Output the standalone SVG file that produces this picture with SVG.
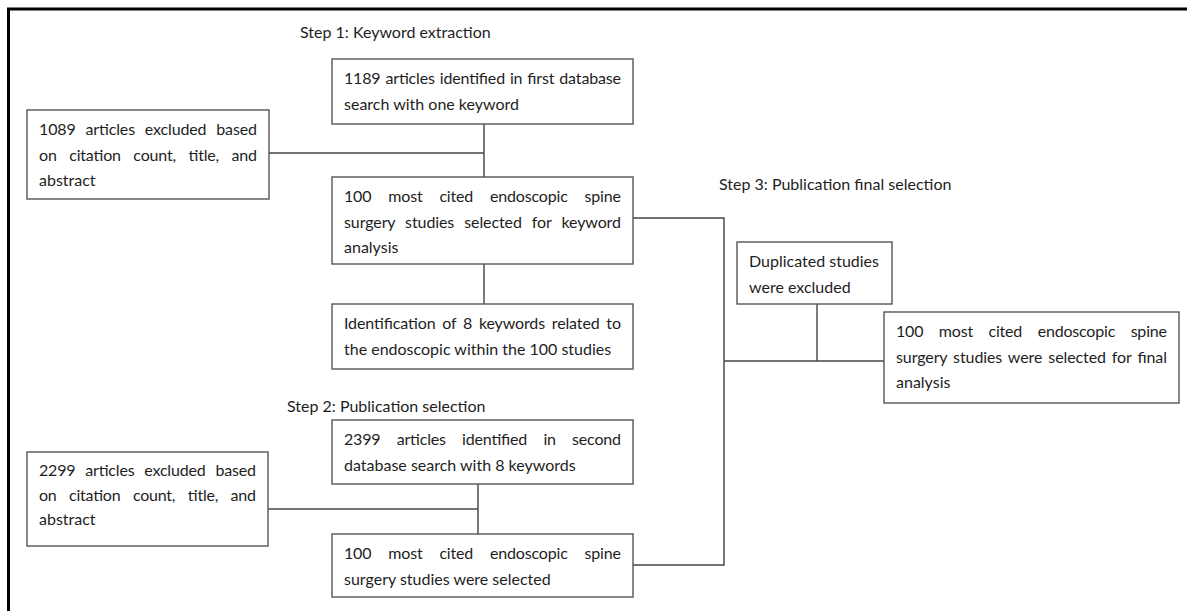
<svg xmlns="http://www.w3.org/2000/svg" width="1187" height="611" viewBox="0 0 1187 611">
<style>
.box{fill:#fff;stroke:#555;stroke-width:1.4}
.t{font-family:Lato,"Liberation Sans",sans-serif;font-size:16px;fill:#1e1e1e}
.lbl{font-family:Lato,"Liberation Sans",sans-serif;font-size:16px;fill:#1e1e1e}
.ln{fill:none;stroke:#444;stroke-width:1.4}
</style>
<rect width="1187" height="611" fill="#fff"/>
<path d="M8.5 611 V9 H1187" fill="none" stroke="#000" stroke-width="3"/>
<text class="lbl" x="300" y="38">Step 1: Keyword extraction</text>
<text class="lbl" x="287" y="412">Step 2: Publication selection</text>
<text class="lbl" x="719" y="190">Step 3: Publication final selection</text>
<g id="connectors">
<path class="ln" d="M269 153 H484 M484 124 V177 M484 264 V304"/>
<path class="ln" d="M268 509 H478 M478 484 V534"/>
<path class="ln" d="M633 218 H724 V565 H633 M724 361 H884 M817 304 V361"/>
</g>
<g id="nodeA">
<rect class="box" x="332" y="59" width="301" height="65"/>
<text class="t" x="344" y="84" textLength="277" lengthAdjust="spacing" word-spacing="1">1189 articles identified in first database</text>
<text class="t" x="344" y="109.5">search with one keyword</text>
</g>
<g id="nodeB">
<rect class="box" x="27" y="110" width="242" height="89"/>
<text class="t" x="39" y="135" textLength="218" lengthAdjust="spacing" word-spacing="5.8">1089 articles excluded based</text>
<text class="t" x="39" y="160.5" textLength="218" lengthAdjust="spacing" word-spacing="8.7">on citation count, title, and</text>
<text class="t" x="39" y="186">abstract</text>
</g>
<g id="nodeC">
<rect class="box" x="332" y="177" width="301" height="87"/>
<text class="t" x="344" y="202" textLength="277" lengthAdjust="spacing" word-spacing="13">100 most cited endoscopic spine</text>
<text class="t" x="344" y="227.5" textLength="277" lengthAdjust="spacing" word-spacing="6">surgery studies selected for keyword</text>
<text class="t" x="344" y="253">analysis</text>
</g>
<g id="nodeD">
<rect class="box" x="332" y="304" width="301" height="65"/>
<text class="t" x="344" y="329" textLength="277" lengthAdjust="spacing" word-spacing="2.8">Identification of 8 keywords related to</text>
<text class="t" x="344" y="354.5">the endoscopic within the 100 studies</text>
</g>
<g id="nodeE">
<rect class="box" x="332" y="420" width="301" height="64"/>
<text class="t" x="344" y="445" textLength="277" lengthAdjust="spacing" word-spacing="12.3">2399 articles identified in second</text>
<text class="t" x="344" y="470.5">database search with 8 keywords</text>
</g>
<g id="nodeF">
<rect class="box" x="27" y="452" width="241" height="94"/>
<text class="t" x="39" y="476" textLength="217" lengthAdjust="spacing" word-spacing="5.8">2299 articles excluded based</text>
<text class="t" x="39" y="500.5" textLength="217" lengthAdjust="spacing" word-spacing="8.7">on citation count, title, and</text>
<text class="t" x="39" y="525">abstract</text>
</g>
<g id="nodeG">
<rect class="box" x="332" y="534" width="301" height="63"/>
<text class="t" x="344" y="559" textLength="277" lengthAdjust="spacing" word-spacing="13">100 most cited endoscopic spine</text>
<text class="t" x="344" y="584.5">surgery studies were selected</text>
</g>
<g id="nodeH">
<rect class="box" x="737" y="242" width="155" height="62"/>
<text class="t" x="749" y="267">Duplicated studies</text>
<text class="t" x="749" y="292.5">were excluded</text>
</g>
<g id="nodeI">
<rect class="box" x="884" y="312" width="295" height="91"/>
<text class="t" x="896" y="337" textLength="271" lengthAdjust="spacing" word-spacing="11.6">100 most cited endoscopic spine</text>
<text class="t" x="896" y="362.5" textLength="271" lengthAdjust="spacing" word-spacing="2">surgery studies were selected for final</text>
<text class="t" x="896" y="388">analysis</text>
</g>
</svg>
